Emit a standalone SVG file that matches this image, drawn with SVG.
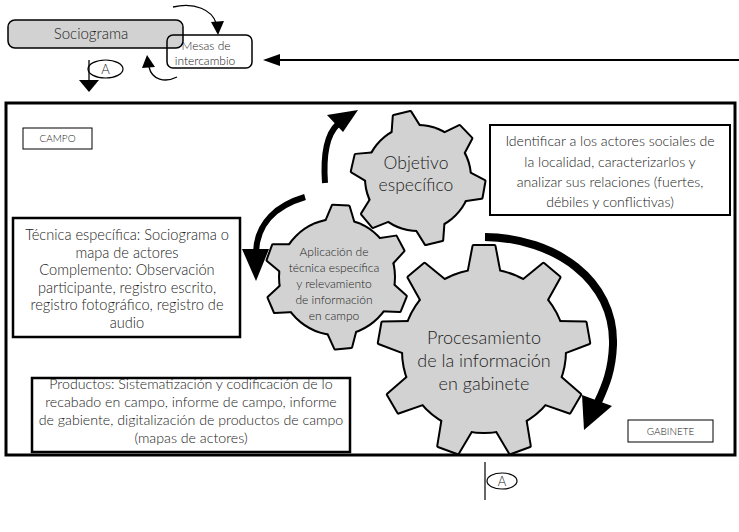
<svg xmlns="http://www.w3.org/2000/svg" xmlns:xlink="http://www.w3.org/1999/xlink" width="739" height="532" viewBox="0 0 739 532">
<style>
text{font-family:Lato,"Open Sans","Liberation Sans",sans-serif;font-weight:300;fill:#222;text-anchor:middle}
.box{fill:#fff;stroke:#000}
.gs{fill:#000;stroke:#000;stroke-width:4;stroke-linejoin:round}
.gf{fill:#d2d2d2;stroke:none}
.thin{fill:none;stroke:#000;stroke-width:1.3}
.thick{fill:none;stroke:#000;stroke-linecap:butt}
.head{fill:#000;stroke:none}
</style>
<defs>
<polygon id="tB" points="-15.8,-77 -10.5,-105 10.5,-105 15.8,-77"/>
<polygon id="tO" points="-14.4,-48 -8.5,-66 8.5,-66 14.4,-48"/>
<polygon id="tS" points="-14.4,-53 -8,-71 8,-71 14.4,-53"/>
</defs>
<rect x="0" y="0" width="739" height="532" fill="#fff"/>

<g id="frame"><rect x="6" y="103" width="729" height="352" fill="none" stroke="#000" stroke-width="3"/></g>

<g id="sociograma">
<rect x="8" y="20" width="175" height="28" rx="7" fill="#d2d2d2" stroke="#000" stroke-width="1.5"/>
<text x="91" y="39" font-size="15">Sociograma</text>
</g>
<g id="mesas">
<rect x="167" y="35" width="85" height="33" rx="6" fill="none" stroke="#000" stroke-width="1.5"/>
<text x="206" y="50" font-size="12">Mesas de</text>
<text x="205" y="65" font-size="12">intercambio</text>
</g>
<g id="refA-top">
<ellipse cx="105.5" cy="69" rx="17.5" ry="9" fill="none" stroke="#000" stroke-width="1.2"/>
<text x="105.5" y="74" font-size="13">A</text>
</g>

<g id="campo"><rect class="box" x="23" y="128" width="69" height="21" stroke-width="1"/><text x="57.5" y="142" font-size="10">CAMPO</text></g>
<g id="gabinete"><rect class="box" x="628" y="420" width="85" height="22" stroke-width="1"/><text x="670.5" y="435" font-size="10">GABINETE</text></g>

<g id="tecnica">
<rect class="box" x="13" y="218" width="227" height="119" stroke-width="2.5"/>
<text font-size="14.6"><tspan x="127" y="240">Técnica específica: Sociograma o</tspan><tspan x="127" y="257.5">mapa de actores</tspan><tspan x="127" y="275">Complemento: Observación</tspan><tspan x="127" y="292.5">participante, registro escrito,</tspan><tspan x="127" y="310">registro fotográfico, registro de</tspan><tspan x="127" y="327.5">audio</tspan></text>
</g>

<g id="productos">
<rect class="box" x="32" y="378" width="318" height="74" stroke-width="2.5"/>
<text font-size="14.2"><tspan x="191" y="389">Productos:  Sistematización y codificación de lo</tspan><tspan x="191" y="407">recabado en campo, informe de campo, informe</tspan><tspan x="191" y="425">de gabiente, digitalización de productos de campo</tspan><tspan x="191" y="443">(mapas de actores)</tspan></text>
</g>

<g id="identificar">
<rect class="box" x="490" y="125" width="240" height="90" stroke-width="2"/>
<text font-size="14.1"><tspan x="610" y="146">Identificar a los actores sociales de</tspan><tspan x="610" y="166.5">la localidad, caracterizarlos y</tspan><tspan x="610" y="187">analizar sus relaciones (fuertes,</tspan><tspan x="610" y="207">débiles y conflictivas)</tspan></text>
</g>

<g id="gear-aplicacion">
<g class="gs"><circle cx="337" cy="277" r="57"/>
<use xlink:href="#tS" transform="translate(337,277) rotate(3)"/><use xlink:href="#tS" transform="translate(337,277) rotate(62)"/><use xlink:href="#tS" transform="translate(337,277) rotate(112)"/><use xlink:href="#tS" transform="translate(337,277) rotate(175)"/><use xlink:href="#tS" transform="translate(337,277) rotate(247)"/><use xlink:href="#tS" transform="translate(337,277) rotate(290)"/></g>
<g class="gf"><circle cx="337" cy="277" r="57"/>
<use xlink:href="#tS" transform="translate(337,277) rotate(3)"/><use xlink:href="#tS" transform="translate(337,277) rotate(62)"/><use xlink:href="#tS" transform="translate(337,277) rotate(112)"/><use xlink:href="#tS" transform="translate(337,277) rotate(175)"/><use xlink:href="#tS" transform="translate(337,277) rotate(247)"/><use xlink:href="#tS" transform="translate(337,277) rotate(290)"/></g>
<text font-size="12"><tspan x="334" y="256">Aplicación de</tspan><tspan x="334" y="272">técnica específica</tspan><tspan x="334" y="288">y relevamiento</tspan><tspan x="334" y="304">de información</tspan><tspan x="334" y="320">en campo</tspan></text>
</g>

<g id="gear-objetivo">
<g class="gs"><circle cx="418" cy="178" r="52"/>
<use xlink:href="#tO" transform="translate(418,178) rotate(-14)"/><use xlink:href="#tO" transform="translate(418,178) rotate(46)"/><use xlink:href="#tO" transform="translate(418,178) rotate(100)"/><use xlink:href="#tO" transform="translate(418,178) rotate(166)"/><use xlink:href="#tO" transform="translate(418,178) rotate(230)"/><use xlink:href="#tO" transform="translate(418,178) rotate(283)"/></g>
<g class="gf"><circle cx="418" cy="178" r="52"/>
<use xlink:href="#tO" transform="translate(418,178) rotate(-14)"/><use xlink:href="#tO" transform="translate(418,178) rotate(46)"/><use xlink:href="#tO" transform="translate(418,178) rotate(100)"/><use xlink:href="#tO" transform="translate(418,178) rotate(166)"/><use xlink:href="#tO" transform="translate(418,178) rotate(230)"/><use xlink:href="#tO" transform="translate(418,178) rotate(283)"/></g>
<text font-size="17.5"><tspan x="416" y="169">Objetivo</tspan><tspan x="416" y="191">específico</tspan></text>
</g>

<g id="gear-procesamiento">
<g class="gs"><circle cx="484" cy="351" r="81"/>
<use xlink:href="#tB" transform="translate(484,351) rotate(0)"/><use xlink:href="#tB" transform="translate(484,351) rotate(40)"/><use xlink:href="#tB" transform="translate(484,351) rotate(80)"/><use xlink:href="#tB" transform="translate(484,351) rotate(120)"/><use xlink:href="#tB" transform="translate(484,351) rotate(160)"/><use xlink:href="#tB" transform="translate(484,351) rotate(200)"/><use xlink:href="#tB" transform="translate(484,351) rotate(240)"/><use xlink:href="#tB" transform="translate(484,351) rotate(280)"/><use xlink:href="#tB" transform="translate(484,351) rotate(320)"/></g>
<g class="gf"><circle cx="484" cy="351" r="81"/>
<use xlink:href="#tB" transform="translate(484,351) rotate(0)"/><use xlink:href="#tB" transform="translate(484,351) rotate(40)"/><use xlink:href="#tB" transform="translate(484,351) rotate(80)"/><use xlink:href="#tB" transform="translate(484,351) rotate(120)"/><use xlink:href="#tB" transform="translate(484,351) rotate(160)"/><use xlink:href="#tB" transform="translate(484,351) rotate(200)"/><use xlink:href="#tB" transform="translate(484,351) rotate(240)"/><use xlink:href="#tB" transform="translate(484,351) rotate(280)"/><use xlink:href="#tB" transform="translate(484,351) rotate(320)"/></g>
<text font-size="18"><tspan x="484" y="344">Procesamiento</tspan><tspan x="484" y="367">de la información</tspan><tspan x="484" y="390">en gabinete</tspan></text>
</g>

<g id="connectors">
<path class="thin" d="M173,7 C195,2 212,10 216,23"/>
<polygon class="head" points="211,22 224,21 218,35"/>
<path class="thin" d="M177,77 C165,83 152,80 149,67"/>
<polygon class="head" points="142,68 155,67 147,55"/>
<line x1="739" y1="60" x2="278" y2="60" stroke="#000" stroke-width="1.8"/>
<polygon class="head" points="263,60 280,54 280,66"/>
<line x1="89" y1="60" x2="89" y2="81" stroke="#000" stroke-width="1.3"/>
<polygon class="head" points="79,80 99,80 89,92"/>
<path class="thick" stroke-width="6" d="M325,183 C323,155 326,135 338,124"/>
<polygon class="head" points="327,115 343,132 358,110"/>
<path class="thick" stroke-width="6" d="M305,197 C278,205 257,222 256,252"/>
<polygon class="head" points="242,249 269,249 256,281"/>
<path class="thick" stroke-width="8" d="M485,237 C555,238 615,280 613,345 C612,370 606,385 598,402"/>
<polygon class="head" points="582,395 612,406 584,430"/>
<line x1="485" y1="462" x2="485" y2="500" stroke="#000" stroke-width="1.2"/>
</g>
<g id="refA-bottom">
<ellipse cx="502" cy="481" rx="15" ry="8" fill="none" stroke="#000" stroke-width="1.2"/>
<text x="502" y="486" font-size="13">A</text>
</g>
</svg>
